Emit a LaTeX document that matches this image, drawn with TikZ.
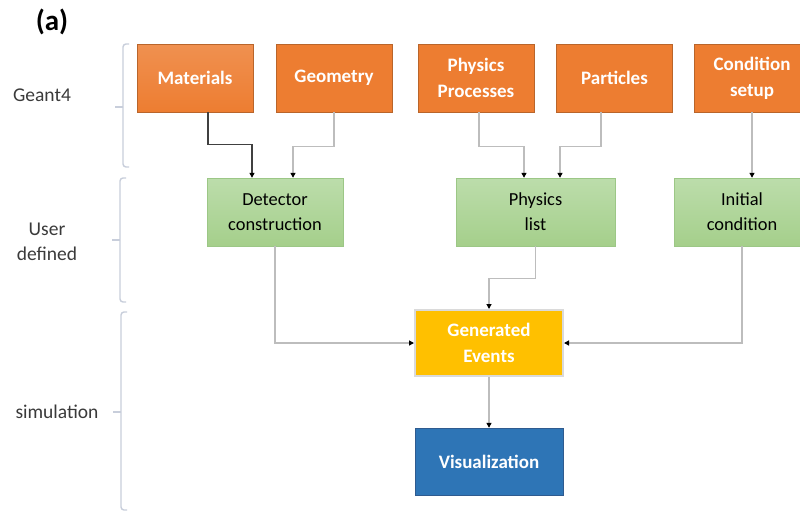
\documentclass[tikz,border=0pt]{standalone}
\usepackage{fontspec}
\setmainfont{Carlito}
\usetikzlibrary{arrows.meta}

\definecolor{geantfill}{HTML}{ED7D31}
\definecolor{geantedge}{HTML}{B9652B}
\definecolor{usertop}{HTML}{BCDDAB}
\definecolor{userbottom}{HTML}{A5CF8B}
\definecolor{useredge}{HTML}{9CC786}
\definecolor{eventfill}{HTML}{FFC000}
\definecolor{eventedge}{HTML}{DADADA}
\definecolor{visfill}{HTML}{2E75B6}
\definecolor{visedge}{HTML}{2F5B8F}
\definecolor{linkgray}{HTML}{BDBDBD}
\definecolor{bracegray}{HTML}{C8CEDB}
\definecolor{labelgray}{HTML}{3A3A3A}

\begin{document}
\begin{tikzpicture}[x=1pt,y=-1pt]
\tikzstyle{box}=[
	rectangle,
	inner sep=0pt,
	align=center,
	minimum height=68pt ]
\tikzstyle{geant}=[box, fill=geantfill, draw=geantedge, minimum width=116pt,
	text=white, font=\bfseries\fontsize{19}{26}\selectfont]
\tikzstyle{user}=[box, top color=usertop, bottom color=userbottom, draw=useredge,
	minimum width=136pt, text=black, font=\fontsize{18.4}{25}\selectfont]
\tikzstyle{sim}=[box, minimum width=148pt, text=white, font=\bfseries\fontsize{19}{26}\selectfont]
\tikzstyle{side}=[text=labelgray, align=center, font=\fontsize{19.5}{25}\selectfont]
\tikzstyle{link}=[draw=linkgray, line width=1.2pt, -{Triangle[length=5pt,width=5pt,color=black]}]
\tikzstyle{brace}=[draw=bracegray, line width=1.4pt, rounded corners=3pt]

\clip (0,0) rectangle (800,512);
\fill[white] (0,0) rectangle (800,512);

\node[font=\bfseries\fontsize{29}{32}\selectfont] (tag) at (52,22) {(a)};

\node[side] (geantlbl) at (42,95) {Geant4};
\node[side] (userlbl) at (47,242) {User\\defined};
\node[side] (simlbl) at (57,412) {simulation};

\draw[brace] (129,44) -- (123,44) -- (123,167) -- (129,167);
\draw[brace] (123,107) -- (115,107);
\draw[brace] (126,178) -- (120,178) -- (120,302) -- (126,302);
\draw[brace] (120,240) -- (112,240);
\draw[brace] (127,312) -- (121,312) -- (121,510) -- (127,510);
\draw[brace] (121,412) -- (113,412);

\node[geant, top color=geantfill!85!white, bottom color=geantfill] (mat) at (195,78) {Materials};
\node[geant] (geo) at (334,78) {Geometry};
\node[geant] (proc) at (476,78) {Physics\\Processes};
\node[geant] (part) at (614.5,78) {Particles};
\node[geant] (cond) at (752,78) {Condition\\setup};

\node[user] (det) at (275,212) {Detector\\construction};
\node[user, minimum width=159pt] (plist) at (535.5,212) {Physics\\list};
\node[user] (init) at (742,212) {Initial\\condition};

\node[sim, fill=eventfill, draw=eventedge, line width=2pt, minimum height=66pt] (gen) at (489,343) {Generated\\Events};
\node[sim, fill=visfill, draw=visedge, minimum height=67pt] (vis) at (489,461.5) {Visualization};

\draw[link, draw=black!75] ([xshift=13pt]mat.south) -- ++(0,32) -| ([xshift=-23pt]det.north);
\draw[link] (geo.south) -- ++(0,34) -| ([xshift=18pt]det.north);
\draw[link] ([xshift=3pt]proc.south) -- ++(0,34) -| ([xshift=-11.5pt]plist.north);
\draw[link] ([xshift=-13.5pt]part.south) -- ++(0,34) -| ([xshift=24.5pt]plist.north);
\draw[link] (cond.south) -- (cond.south |- init.north);

\draw[link] (det.south) |- (gen.west);
\draw[link] (plist.south) -- ++(0,32) -| (gen.north);
\draw[link] (init.south) |- (gen.east);
\draw[link] (gen.south) -- (vis.north);
\end{tikzpicture}
\end{document}
